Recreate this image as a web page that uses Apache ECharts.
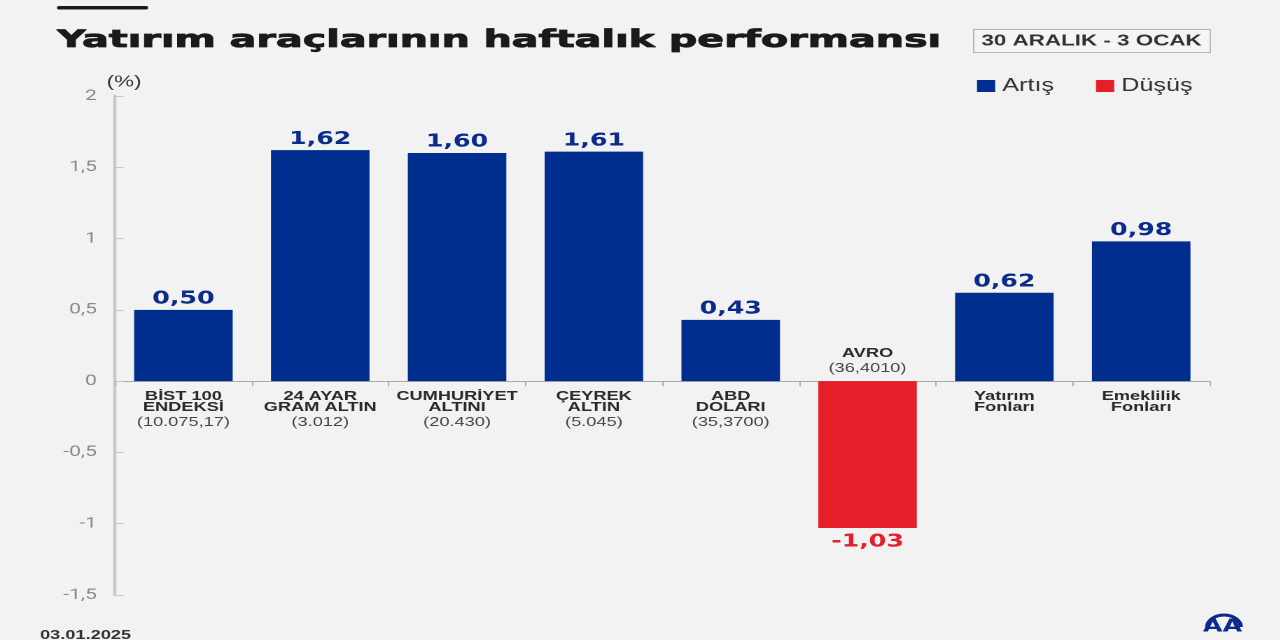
<!DOCTYPE html>
<html>
<head>
<meta charset="utf-8">
<script src="https://cdn.jsdelivr.net/npm/echarts@6/dist/echarts.min.js"></script>
<style>
  html, body { margin: 0; padding: 0; background: #f2f2f2; overflow: hidden; }
  #graph { height: 640px; transform-origin: 0 0; }
</style>
</head>
<body>
<div id="graph"></div>
<script>
var categories = [
    'BİST 100\nENDEKSİ\n{p|(10.075,17)}',
    '24 AYAR\nGRAM ALTIN\n{p|(3.012)}',
    'CUMHURİYET\nALTINI\n{p|(20.430)}',
    'ÇEYREK\nALTIN\n{p|(5.045)}',
    'ABD\nDOLARI\n{p|(35,3700)}',
    'AVRO\n{p|(36,4010)}',
    'Yatırım\nFonları',
    'Emeklilik\nFonları'
];
var values = [0.50, 1.62, 1.60, 1.61, 0.43, -1.03, 0.62, 0.98];
var yMin = -1.5;
var yMax = 2;
var yStep = 0.5;

// görsel yatayda gerilmiş: grafik dar çizilip CSS ile genişletiliyor
var stretch = 1.4;
var W = 1280 / stretch;
var el = document.getElementById('graph');
el.style.width = W + 'px';
el.style.transform = 'scaleX(' + stretch + ')';

var chart = echarts.init(el, null, { devicePixelRatio: 2 });

function sx(x) { return x / stretch; }

var gridTop = 96, gridBottom = 45;
var gridH = 640 - gridTop - gridBottom;
var zeroOffset = -gridH * (0 - yMin) / (yMax - yMin);

var rise = values.map(function (v) { return v >= 0 ? v : '-'; });
var fall = values.map(function (v) { return v < 0 ? v : '-'; });

function fmt(v) {
    return v.toFixed(2).replace('.', ',');
}

var xData = categories.map(function (c, i) {
    if (values[i] < 0) {
        // negatif çubukta etiket eksenin üstünde
        return { value: c, textStyle: { verticalAlign: 'bottom', padding: [0, 0, 13, 0] } };
    }
    return c;
});

var option = {
    backgroundColor: '#f2f2f2',
    textStyle: { fontFamily: 'Liberation Sans' },
    title: [{
        text: '30 ARALIK - 3 OCAK',
        left: sx(973),
        top: 29,
        borderColor: '#b5b5b5',
        borderWidth: 1,
        padding: [4, 6, 4, 6],
        backgroundColor: '#f5f5f5',
        textStyle: { fontFamily: 'Liberation Sans', fontWeight: 'bold', fontSize: 16, color: '#333' }
    }, {
        text: '03.01.2025',
        left: sx(33),
        top: 624,
        textStyle: { fontFamily: 'Liberation Sans', fontWeight: 'bold', fontSize: 13, color: '#333' }
    }],
    graphic: [{
        type: 'rect',
        left: sx(57), top: 6,
        shape: { width: sx(91), height: 3.5, r: 1.5 },
        style: { fill: '#1a1a1a' }
    }, {
        type: 'text',
        x: sx(57), y: 29,
        scaleX: 1.18,
        style: {
            text: 'Yatırım araçlarının haftalık performansı',
            font: 'bold 24px DejaVu Sans',
            fill: '#1a1a1a',
            stroke: '#1a1a1a',
            lineWidth: 0.8,
            verticalAlign: 'top'
        }
    }, {
        type: 'arc',
        shape: { cx: sx(1224), cy: 627, r: 12, startAngle: Math.PI, endAngle: 2 * Math.PI },
        style: { stroke: '#0a2a8c', lineWidth: 3, fill: 'none' }
    }, {
        type: 'text',
        left: sx(1203), top: 618,
        style: { text: 'AA', font: '900 18px DejaVu Sans', fill: '#0a2a8c' }
    }],
    legend: {
        left: sx(970),
        top: 72,
        itemWidth: 13,
        itemHeight: 12,
        itemGap: 30,
        icon: 'rect',
        textStyle: { fontFamily: 'Liberation Sans', fontSize: 18, color: '#333' },
        data: ['Artış', 'Düşüş']
    },
    grid: {
        left: sx(115), right: W - sx(1210), top: gridTop, bottom: gridBottom,
        containLabel: false, outerBoundsMode: 'none'
    },
    xAxis: {
        type: 'category',
        data: xData,
        offset: zeroOffset,
        axisLine: { onZero: false, lineStyle: { color: '#aaa', width: 1 } },
        axisTick: { show: true, length: 5, lineStyle: { color: '#aaa' } },
        axisLabel: {
            interval: 0,
            margin: 10,
            fontFamily: 'Liberation Sans',
            fontWeight: 'bold',
            fontSize: 13,
            lineHeight: 11,
            color: '#2a2a2a',
            rich: {
                p: { fontFamily: 'Liberation Sans', fontWeight: 'normal', fontSize: 13, lineHeight: 19, color: '#444' }
            }
        }
    },
    yAxis: {
        type: 'value',
        min: yMin,
        max: yMax,
        interval: yStep,
        name: '(%)',
        nameGap: 6,
        nameTextStyle: { fontFamily: 'Liberation Sans', fontSize: 16, color: '#333', align: 'left', padding: [0, 0, 0, -6] },
        axisLine: { show: true, lineStyle: { color: '#c8c8c8', width: 2.2 } },
        axisTick: { show: true, inside: true, length: 6, lineStyle: { color: '#c8c8c8' } },
        splitLine: { show: false },
        axisLabel: {
            margin: 13,
            fontFamily: 'Roboto',
            fontSize: 15,
            color: '#8a8a8a',
            formatter: function (v) { return String(v).replace('.', ','); }
        }
    },
    series: [{
        name: 'Artış',
        type: 'bar',
        stack: 'p',
        barWidth: '72%',
        data: rise,
        itemStyle: { color: '#002e8f' },
        label: {
            show: true,
            position: 'top',
            distance: 2,
            fontFamily: 'DejaVu Sans',
            fontWeight: 'bold',
            fontSize: 18,
            color: '#0a2a8c',
            formatter: function (p) { return fmt(p.value); }
        }
    }, {
        name: 'Düşüş',
        type: 'bar',
        stack: 'p',
        barWidth: '72%',
        data: fall,
        itemStyle: { color: '#e61e2a' },
        label: {
            show: true,
            position: 'bottom',
            distance: 5,
            fontFamily: 'DejaVu Sans',
            fontWeight: 'bold',
            fontSize: 18,
            color: '#e61e2a',
            formatter: function (p) { return fmt(p.value); }
        }
    }]
};

chart.setOption(option);
</script>
</body>
</html>
